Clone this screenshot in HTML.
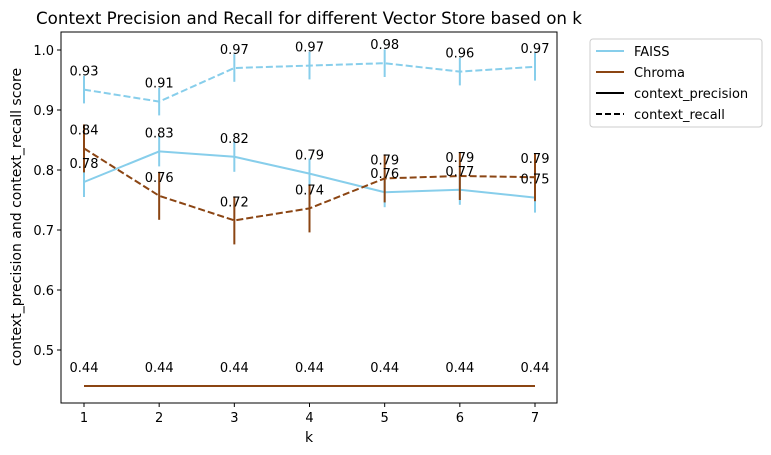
<!DOCTYPE html>
<html><head><meta charset="utf-8"><style>
body{margin:0;background:#fff}
svg{display:block;font-family:"DejaVu Sans","Liberation Sans",sans-serif}
</style></head><body>
<svg id="chart" width="771" height="455" xmlns="http://www.w3.org/2000/svg">
<rect width="771" height="455" fill="#fff"/>
<text x="309" y="24" font-size="16.7" text-anchor="middle">Context Precision and Recall for different Vector Store based on k</text>
<g id="plot"></g>
<rect x="61" y="32" width="496" height="371" fill="none" stroke="#000" stroke-width="1"/>
<text x="309" y="442" font-size="14" text-anchor="middle">k</text>
<text transform="translate(21,217) rotate(-90)" font-size="14" text-anchor="middle">context_precision and context_recall score</text>
<g>
<rect x="590" y="39" width="172" height="88" rx="3" fill="#fff" stroke="#ccc"/>
<g><line x1="596" y1="51" x2="624" y2="51" stroke="#87ceeb" stroke-width="2"/><text x="634" y="56" font-size="13">FAISS</text></g>
<g><line x1="596" y1="72" x2="624" y2="72" stroke="#8b4513" stroke-width="2"/><text x="634" y="77" font-size="13">Chroma</text></g>
<g><line x1="596" y1="93" x2="624" y2="93" stroke="#000" stroke-width="2"/><text x="634" y="98" font-size="13">context_precision</text></g>
<g><line x1="596" y1="114" x2="624" y2="114" stroke="#000" stroke-width="2" stroke-dasharray="6,3"/><text x="634" y="119" font-size="13">context_recall</text></g>
</g>
</svg>
<script>
const ks = [1,2,3,4,5,6,7];
const yTicks = [0.5,0.6,0.7,0.8,0.9,1.0];
const faissPrecision = [0.780,0.831,0.822,0.794,0.763,0.767,0.754];
const faissPrecisionErr = [0.025,0.025,0.025,0.025,0.025,0.025,0.025];
const faissRecall = [0.934,0.914,0.970,0.974,0.978,0.964,0.972];
const faissRecallErr = [0.023,0.023,0.023,0.023,0.023,0.023,0.023];
const chromaPrecision = [0.44,0.44,0.44,0.44,0.44,0.44,0.44];
const chromaPrecisionErr = [0,0,0,0,0,0,0];
const chromaRecall = [0.836,0.757,0.716,0.736,0.786,0.790,0.788];
const chromaRecallErr = [0.04,0.04,0.04,0.04,0.04,0.04,0.04];

const NS="http://www.w3.org/2000/svg";
const X0=61,X1=557,Y0=32,Y1=403;
function xs(k){return 84+(k-1)*(535-84)/6;}
function ys(v){return 50+(1.0-v)*600;}
const g=document.getElementById('plot');
function mk(t,a){const e=document.createElementNS(NS,t);for(const k in a)e.setAttribute(k,a[k]);g.appendChild(e);return e;}

yTicks.forEach(v=>{
  const t=mk('line',{x1:X0-4,x2:X0,y1:ys(v),y2:ys(v),stroke:'#000'});
  
  
  const l=mk('text',{x:X0-7,y:ys(v)+5,'font-size':13,'text-anchor':'end'});
  
  
  l.textContent=v.toFixed(1);
});
ks.forEach(k=>{
  const t=mk('line',{x1:xs(k),x2:xs(k),y1:Y1,y2:Y1+4,stroke:'#000'});
  
  
  const l=mk('text',{x:xs(k),y:Y1+19,'font-size':13,'text-anchor':'middle'});
  
  
  l.textContent=k;
});

function series(vals,errs,color,dashed,name){
  const pts=ks.map((k,i)=>xs(k)+','+ys(vals[i])).join(' ');
  const p=mk('polyline',{points:pts,fill:'none',stroke:color,'stroke-width':2});
  if(dashed)p.setAttribute('stroke-dasharray','7,3');
  
  
  ks.forEach((k,i)=>{
    if(errs[i]>0){
      const e=mk('line',{x1:xs(k),x2:xs(k),y1:ys(vals[i]-errs[i]),y2:ys(vals[i]+errs[i]),stroke:color,'stroke-width':2});
      
      
    }
  });
}
function labels(vals){
  ks.forEach((k,i)=>{
    const t=mk('text',{x:xs(k),y:ys(vals[i])-14,'font-size':13,'text-anchor':'middle'});
    
    
    t.textContent=vals[i].toFixed(2);
  });
}
series(faissRecall,faissRecallErr,'#87ceeb',true,'faiss-recall');
series(faissPrecision,faissPrecisionErr,'#87ceeb',false,'faiss-precision');
series(chromaRecall,chromaRecallErr,'#8b4513',true,'chroma-recall');
series(chromaPrecision,chromaPrecisionErr,'#8b4513',false,'chroma-precision');
labels(faissRecall);labels(faissPrecision);labels(chromaRecall);labels(chromaPrecision);
</script>
</body></html>
